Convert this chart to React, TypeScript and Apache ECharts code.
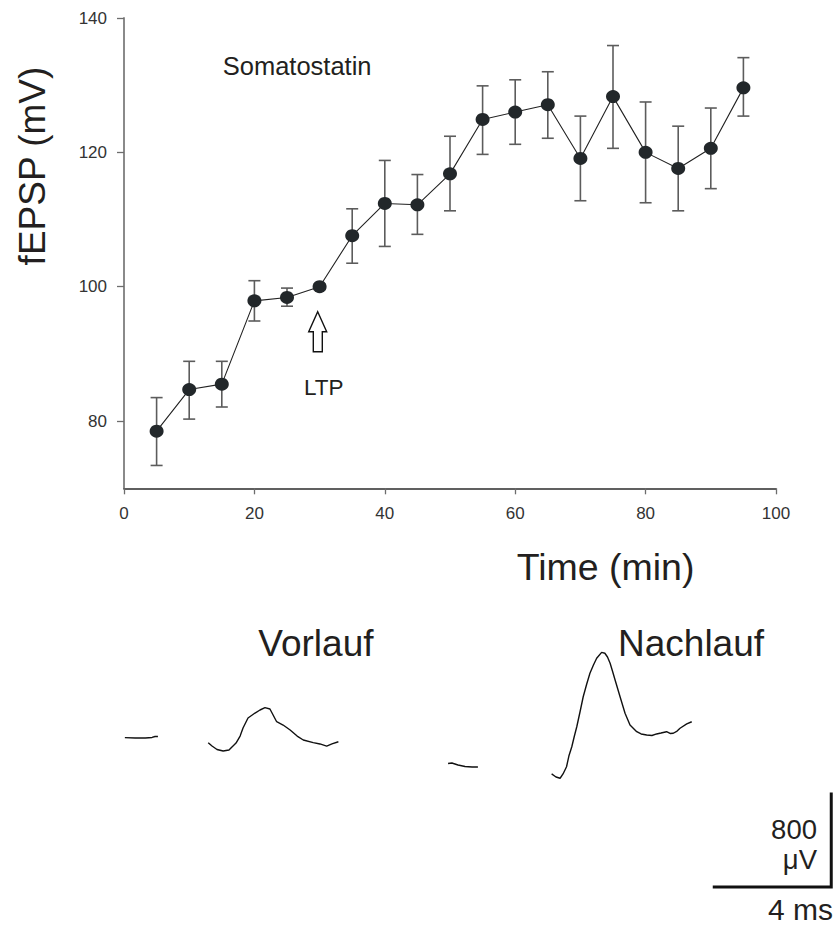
import React, { useEffect, useRef } from "react";
import * as echarts from "echarts";

// ---- Main plot data (Time in min, fEPSP in mV as labelled) ----
const timeMin = [5, 10, 15, 20, 25, 30, 35, 40, 45, 50, 55, 60, 65, 70, 75, 80, 85, 90, 95];
const fepspMean = [78.5, 84.7, 85.5, 97.9, 98.4, 100.0, 107.6, 112.4, 112.2, 116.8, 124.9, 126.0, 127.1, 119.1, 128.3, 120.0, 117.6, 120.6, 129.6];
const errUpper = [83.5, 88.9, 88.9, 100.9, 99.8, 100.4, 111.6, 118.8, 116.7, 122.4, 129.9, 130.8, 132.0, 125.4, 135.9, 127.5, 123.9, 126.6, 134.1];
const errLower = [73.4, 80.3, 82.1, 94.9, 97.1, 99.6, 103.5, 106.0, 107.8, 111.3, 119.7, 121.2, 122.1, 112.8, 120.6, 112.5, 111.3, 114.6, 125.4];
const yTickValues = [80, 100, 120, 140];

// ---- Example traces ([ms, µV]) ----
const vorlaufBaseline = [[0.85, 20], [1.2, 17], [1.55, 17], [1.78, 22], [1.88, 30], [1.98, 30]];
const vorlaufResponse = [
  [3.70, -23], [3.83, -52], [4.00, -82], [4.21, -95], [4.41, -86], [4.65, -26], [4.79, 34], [4.89, 103],
  [5.06, 189], [5.30, 232], [5.47, 258], [5.64, 278], [5.81, 267], [6.04, 157], [6.26, 129], [6.50, 86],
  [6.74, 34], [6.95, 0], [7.29, -23], [7.52, -34], [7.75, -52], [7.93, -34], [8.15, -15],
];
const nachlaufBaseline = [[11.90, -202], [12.03, -198], [12.24, -215], [12.48, -228], [12.72, -232], [12.92, -232]];
const nachlaufResponse = [
  [15.44, -292], [15.59, -318], [15.73, -329], [15.83, -292], [15.95, -230], [16.03, -138], [16.13, -58],
  [16.21, 26], [16.30, 114], [16.41, 241], [16.52, 372], [16.64, 482], [16.75, 574], [16.87, 645],
  [16.98, 703], [17.15, 754], [17.26, 746], [17.35, 714], [17.44, 660], [17.52, 594], [17.61, 516],
  [17.78, 372], [17.95, 230], [18.12, 129], [18.35, 71], [18.50, 52], [18.69, 43], [18.87, 39],
  [19.03, 52], [19.18, 60], [19.37, 71], [19.49, 56], [19.60, 58], [19.73, 77], [19.83, 101],
  [20.06, 138], [20.23, 157],
];
const scaleBarMs = 4;
const scaleBarUv = 800;

const FONT = "'Liberation Sans', Arial, Helvetica, sans-serif";
const TXT = "#231f20";

export default function App() {
  const ref = useRef<HTMLDivElement>(null);

  useEffect(() => {
    document.body.style.margin = "0";
    document.body.style.overflow = "hidden";
    const chart = echarts.init(ref.current!, null, { renderer: "svg" });

    const errData = timeMin.map((t, i) => [t, errLower[i], errUpper[i]]);
    const meanData = timeMin.map((t, i) => [t, fepspMean[i]]);
    const sbX = 25;
    const sbY = -1265;
    const scaleBar = [[sbX - scaleBarMs, sbY], [sbX, sbY], [sbX, sbY + scaleBarUv]];

    const txt = (text: string, x: number, y: number, size: number, align = "left", extra: any = {}, lh?: number) => ({
      type: "text",
      x,
      y,
      ...extra,
      style: {
        text,
        fontSize: size,
        fontFamily: FONT,
        fill: TXT,
        align,
        verticalAlign: "middle",
        lineHeight: lh ?? Math.round(size * 1.05),
      },
    });

    const option: any = {
      animation: false,
      backgroundColor: "#ffffff",
      grid: [
        { left: 124, top: 18, width: 652, height: 470.3 },
        { left: 100, top: 623.75, width: 731.25, height: 279 },
      ],
      xAxis: [
        {
          type: "value",
          gridIndex: 0,
          min: 0,
          max: 100,
          interval: 20,
          axisLine: { lineStyle: { color: "#2b2b2b", width: 1.5 } },
          axisTick: { show: true, length: 6, lineStyle: { color: "#6d6d6d", width: 1.3 } },
          axisLabel: { fontSize: 17, fontFamily: FONT, color: "#333", margin: 17 },
          splitLine: { show: false },
        },
        { type: "value", gridIndex: 1, min: 0, max: 25, show: false },
      ],
      yAxis: [
        {
          type: "value",
          gridIndex: 0,
          min: 70,
          max: 140,
          axisLine: { show: true, lineStyle: { color: "#8a8a8a", width: 2 } },
          axisTick: { show: true, length: 7, customValues: yTickValues, lineStyle: { color: "#6d6d6d", width: 1.3 } },
          axisLabel: { fontSize: 17, fontFamily: FONT, color: "#333", margin: 17, customValues: yTickValues },
          splitLine: { show: false },
        },
        { type: "value", gridIndex: 1, min: -1400, max: 1000, show: false },
      ],
      series: [
        {
          type: "custom",
          xAxisIndex: 0,
          yAxisIndex: 0,
          z: 1,
          data: errData,
          encode: { x: 0, y: [1, 2] },
          renderItem: (params: any, api: any) => {
            const x = api.value(0);
            const top = api.coord([x, api.value(2)]);
            const bot = api.coord([x, api.value(1)]);
            const hw = 6;
            const style = { stroke: "#5c5c5c", lineWidth: 1.6 };
            return {
              type: "group",
              children: [
                { type: "line", shape: { x1: top[0], y1: top[1], x2: bot[0], y2: bot[1] }, style },
                { type: "line", shape: { x1: top[0] - hw, y1: top[1], x2: top[0] + hw, y2: top[1] }, style },
                { type: "line", shape: { x1: bot[0] - hw, y1: bot[1], x2: bot[0] + hw, y2: bot[1] }, style },
              ],
            };
          },
        },
        {
          type: "line",
          xAxisIndex: 0,
          yAxisIndex: 0,
          z: 3,
          data: meanData,
          symbol: "circle",
          symbolSize: [14, 13],
          itemStyle: { color: "#22272a" },
          lineStyle: { color: "#222", width: 1.1 },
        },
        ...[vorlaufBaseline, vorlaufResponse, nachlaufBaseline, nachlaufResponse].map((d) => ({
          type: "line",
          xAxisIndex: 1,
          yAxisIndex: 1,
          data: d,
          showSymbol: false,
          symbol: "none",
          lineStyle: { color: "#111", width: 1.4 },
        })),
        {
          type: "line",
          xAxisIndex: 1,
          yAxisIndex: 1,
          data: scaleBar,
          symbol: "none",
          lineStyle: { color: "#111", width: 3, cap: "square", join: "miter" },
        },
      ],
      graphic: [
        txt("fEPSP (mV)", 32, 166, 37, "center", { rotation: Math.PI / 2 }),
        txt("Somatostatin", 222.7, 66, 25.5),
        txt("LTP", 304, 387, 22.5),
        txt("Time (min)", 516.7, 567, 37.5),
        txt("Vorlauf", 258.3, 643, 37),
        txt("Nachlauf", 618, 643, 37),
        txt("800", 817, 829.5, 27.5, "right", {}, 28),
        txt("\u03bcV", 817, 859, 27.5, "right", {}, 28),
        txt("4 ms", 833, 909, 30, "right", {}, 28),
        {
          type: "polygon",
          shape: {
            points: [
              [317.7, 311.7], [326.7, 331.7], [322.3, 331.7], [322.3, 351.7],
              [313.3, 351.7], [313.3, 331.7], [308.7, 331.7],
            ],
          },
          style: { fill: "#ffffff", stroke: "#111", lineWidth: 1.4 },
        },
      ],
    };

    chart.setOption(option);
    return () => chart.dispose();
  }, []);

  return <div ref={ref} style={{ width: 837, height: 926 }} />;
}
